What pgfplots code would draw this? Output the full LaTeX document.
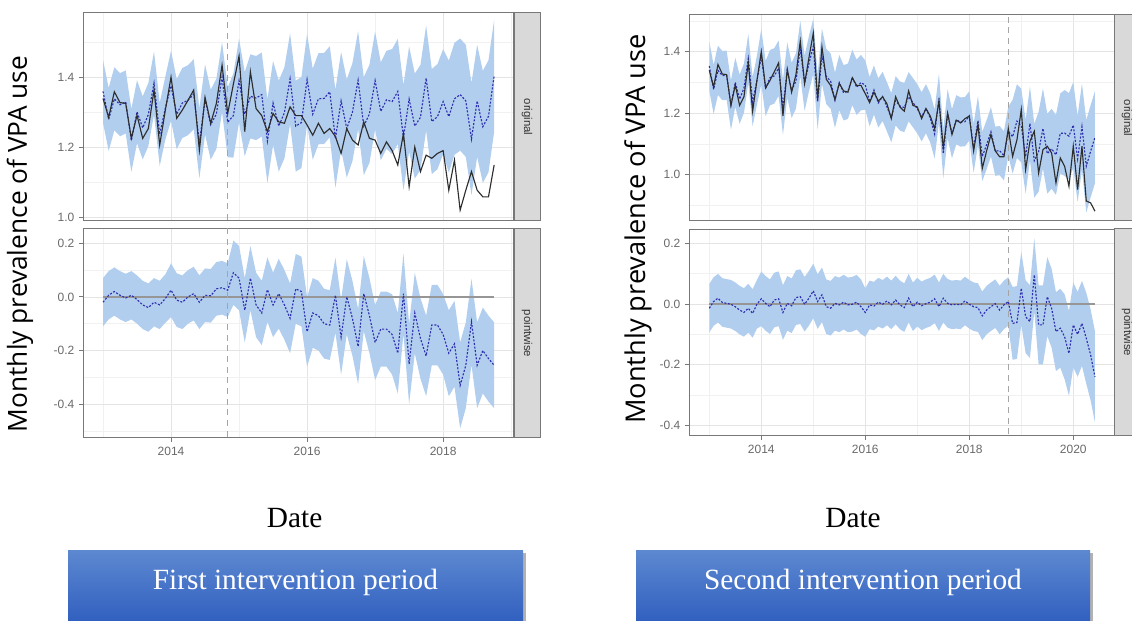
\documentclass[border=0pt]{standalone}
\usepackage{fontspec}
\setmainfont{Liberation Serif}
\newfontfamily\opensans{Open Sans}
\newfontfamily\arialf{Liberation Sans}
\usepackage{pgfplots}
\pgfplotsset{compat=1.18}
\usepackage{pgfplotstable}
\usepgfplotslibrary{fillbetween}

\definecolor{band}{RGB}{177,206,238}
\definecolor{predblue}{RGB}{45,45,175}
\definecolor{obsline}{RGB}{45,45,45}
\definecolor{framec}{RGB}{120,120,120}
\definecolor{gridmaj}{RGB}{228,228,228}
\definecolor{gridmin}{RGB}{241,241,241}
\definecolor{ticklab}{RGB}{105,105,105}
\definecolor{stripfill}{RGB}{217,217,217}
\definecolor{vlinec}{RGB}{165,165,165}
\definecolor{zeroc}{RGB}{150,150,150}
\definecolor{boxtop}{RGB}{92,136,208}
\definecolor{boxbot}{RGB}{45,92,190}

\pgfplotstableread{
i obs pred lo hi pw plo phi
0 1.339 1.359 1.269 1.449 -0.020 -0.110 0.070
1 1.285 1.279 1.189 1.369 0.006 -0.084 0.096
2 1.358 1.338 1.248 1.428 0.020 -0.070 0.110
3 1.327 1.321 1.231 1.411 0.006 -0.084 0.096
4 1.325 1.329 1.239 1.419 -0.004 -0.094 0.086
5 1.225 1.219 1.129 1.309 0.006 -0.084 0.096
6 1.291 1.301 1.211 1.391 -0.010 -0.100 0.080
7 1.225 1.255 1.165 1.345 -0.030 -0.120 0.060
8 1.253 1.293 1.203 1.383 -0.040 -0.130 0.050
9 1.363 1.383 1.293 1.473 -0.020 -0.110 0.070
10 1.206 1.236 1.146 1.326 -0.030 -0.120 0.060
11 1.306 1.312 1.222 1.402 -0.006 -0.096 0.084
12 1.400 1.375 1.275 1.475 0.025 -0.075 0.125
13 1.282 1.294 1.194 1.394 -0.012 -0.112 0.088
14 1.306 1.326 1.226 1.426 -0.020 -0.120 0.080
15 1.334 1.334 1.234 1.434 0.000 -0.100 0.100
16 1.363 1.351 1.251 1.451 0.012 -0.088 0.112
17 1.191 1.211 1.111 1.311 -0.020 -0.120 0.080
18 1.342 1.336 1.236 1.436 0.006 -0.094 0.106
19 1.268 1.264 1.164 1.364 0.004 -0.096 0.104
20 1.325 1.295 1.195 1.395 0.030 -0.070 0.130
21 1.434 1.400 1.300 1.500 0.034 -0.066 0.134
22 1.296 1.271 1.171 1.371 0.025 -0.075 0.125
23 1.380 1.290 1.170 1.410 0.090 -0.030 0.210
24 1.460 1.390 1.270 1.510 0.070 -0.050 0.190
25 1.244 1.294 1.174 1.414 -0.050 -0.170 0.070
26 1.415 1.345 1.225 1.465 0.070 -0.050 0.190
27 1.310 1.340 1.220 1.460 -0.030 -0.150 0.090
28 1.290 1.350 1.230 1.470 -0.060 -0.180 0.060
29 1.244 1.217 1.097 1.337 0.027 -0.093 0.147
30 1.296 1.326 1.206 1.446 -0.030 -0.150 0.090
31 1.272 1.260 1.130 1.390 0.012 -0.118 0.142
32 1.268 1.298 1.168 1.428 -0.030 -0.160 0.100
33 1.315 1.395 1.265 1.525 -0.080 -0.210 0.050
34 1.290 1.260 1.130 1.390 0.030 -0.100 0.160
35 1.290 1.270 1.140 1.400 0.020 -0.110 0.150
36 1.263 1.393 1.263 1.523 -0.130 -0.260 0.000
37 1.234 1.294 1.164 1.424 -0.060 -0.190 0.070
38 1.268 1.338 1.208 1.468 -0.070 -0.200 0.060
39 1.239 1.339 1.209 1.469 -0.100 -0.230 0.030
40 1.253 1.358 1.228 1.488 -0.105 -0.235 0.025
41 1.230 1.224 1.084 1.364 0.006 -0.134 0.146
42 1.182 1.332 1.192 1.472 -0.150 -0.290 -0.010
43 1.253 1.253 1.113 1.393 0.000 -0.140 0.140
44 1.220 1.300 1.160 1.440 -0.080 -0.220 0.060
45 1.206 1.391 1.251 1.531 -0.185 -0.325 -0.045
46 1.272 1.260 1.120 1.400 0.012 -0.128 0.152
47 1.225 1.295 1.155 1.435 -0.070 -0.210 0.070
48 1.220 1.390 1.250 1.530 -0.170 -0.310 -0.030
49 1.182 1.302 1.162 1.442 -0.120 -0.260 0.020
50 1.215 1.335 1.195 1.475 -0.120 -0.260 0.020
51 1.190 1.330 1.180 1.480 -0.140 -0.290 0.010
52 1.149 1.359 1.209 1.509 -0.210 -0.360 -0.060
53 1.239 1.227 1.077 1.377 0.012 -0.138 0.162
54 1.087 1.337 1.187 1.487 -0.250 -0.400 -0.100
55 1.200 1.260 1.110 1.410 -0.060 -0.210 0.090
56 1.130 1.285 1.135 1.435 -0.155 -0.305 -0.005
57 1.177 1.397 1.247 1.547 -0.220 -0.370 -0.070
58 1.168 1.273 1.123 1.423 -0.105 -0.255 0.045
59 1.182 1.287 1.137 1.437 -0.105 -0.255 0.045
60 1.190 1.330 1.180 1.480 -0.140 -0.290 0.010
61 1.077 1.287 1.127 1.447 -0.210 -0.370 -0.050
62 1.163 1.338 1.178 1.498 -0.175 -0.335 -0.015
63 1.020 1.350 1.190 1.510 -0.330 -0.490 -0.170
64 1.077 1.332 1.172 1.492 -0.255 -0.415 -0.095
65 1.130 1.223 1.063 1.383 -0.093 -0.253 0.067
66 1.077 1.332 1.172 1.492 -0.255 -0.415 -0.095
67 1.058 1.258 1.098 1.418 -0.200 -0.360 -0.040
68 1.058 1.288 1.128 1.448 -0.230 -0.390 -0.070
69 1.149 1.404 1.244 1.564 -0.255 -0.415 -0.095
}\tabL

\pgfplotstableread{
i obs pred lo hi pw plo phi
0 1.339 1.353 1.273 1.433 -0.014 -0.094 0.066
1 1.285 1.277 1.197 1.357 0.008 -0.072 0.088
2 1.358 1.339 1.259 1.419 0.019 -0.061 0.099
3 1.327 1.322 1.242 1.402 0.005 -0.075 0.085
4 1.325 1.323 1.243 1.403 0.002 -0.078 0.082
5 1.225 1.226 1.146 1.306 -0.001 -0.081 0.079
6 1.291 1.300 1.220 1.380 -0.009 -0.089 0.071
7 1.225 1.245 1.165 1.325 -0.020 -0.100 0.060
8 1.253 1.281 1.201 1.361 -0.028 -0.108 0.052
9 1.363 1.377 1.297 1.457 -0.014 -0.094 0.066
10 1.206 1.237 1.157 1.317 -0.031 -0.111 0.049
11 1.306 1.307 1.227 1.387 -0.001 -0.081 0.079
12 1.400 1.383 1.293 1.473 0.017 -0.073 0.107
13 1.282 1.280 1.190 1.370 0.002 -0.088 0.092
14 1.306 1.315 1.225 1.405 -0.009 -0.099 0.081
15 1.334 1.321 1.231 1.411 0.013 -0.077 0.103
16 1.363 1.346 1.256 1.436 0.017 -0.073 0.107
17 1.191 1.219 1.129 1.309 -0.028 -0.118 0.062
18 1.342 1.340 1.250 1.430 0.002 -0.088 0.092
19 1.268 1.274 1.184 1.364 -0.006 -0.096 0.084
20 1.325 1.304 1.214 1.394 0.021 -0.069 0.111
21 1.434 1.410 1.320 1.500 0.024 -0.066 0.114
22 1.296 1.297 1.207 1.387 -0.001 -0.091 0.089
23 1.380 1.361 1.271 1.451 0.019 -0.071 0.109
24 1.460 1.417 1.327 1.507 0.043 -0.047 0.133
25 1.244 1.236 1.146 1.326 0.008 -0.082 0.098
26 1.415 1.385 1.295 1.475 0.030 -0.060 0.120
27 1.310 1.319 1.229 1.409 -0.009 -0.099 0.081
28 1.290 1.304 1.214 1.394 -0.014 -0.104 0.076
29 1.244 1.242 1.152 1.332 0.002 -0.088 0.092
30 1.296 1.299 1.209 1.389 -0.003 -0.093 0.087
31 1.272 1.266 1.176 1.356 0.006 -0.084 0.096
32 1.268 1.271 1.181 1.361 -0.003 -0.093 0.087
33 1.315 1.316 1.226 1.406 -0.001 -0.091 0.089
34 1.290 1.284 1.194 1.374 0.006 -0.084 0.096
35 1.290 1.299 1.209 1.389 -0.009 -0.099 0.081
36 1.263 1.291 1.211 1.371 -0.028 -0.108 0.052
37 1.234 1.237 1.157 1.317 -0.003 -0.083 0.077
38 1.268 1.275 1.195 1.355 -0.007 -0.087 0.073
39 1.239 1.233 1.153 1.313 0.006 -0.074 0.086
40 1.253 1.254 1.174 1.334 -0.001 -0.081 0.079
41 1.230 1.220 1.140 1.300 0.010 -0.070 0.090
42 1.182 1.185 1.105 1.265 -0.003 -0.083 0.077
43 1.253 1.240 1.160 1.320 0.013 -0.067 0.093
44 1.220 1.223 1.143 1.303 -0.003 -0.083 0.077
45 1.206 1.218 1.138 1.298 -0.012 -0.092 0.068
46 1.272 1.253 1.173 1.333 0.019 -0.061 0.099
47 1.225 1.234 1.154 1.314 -0.009 -0.089 0.071
48 1.220 1.214 1.134 1.294 0.006 -0.074 0.086
49 1.182 1.188 1.108 1.268 -0.006 -0.086 0.074
50 1.215 1.214 1.134 1.294 0.001 -0.079 0.081
51 1.190 1.184 1.104 1.264 0.006 -0.074 0.086
52 1.149 1.132 1.052 1.212 0.017 -0.063 0.097
53 1.239 1.248 1.168 1.328 -0.009 -0.089 0.071
54 1.087 1.068 0.988 1.148 0.019 -0.061 0.099
55 1.200 1.198 1.118 1.278 0.002 -0.078 0.082
56 1.130 1.133 1.053 1.213 -0.003 -0.083 0.077
57 1.177 1.178 1.098 1.258 -0.001 -0.081 0.079
58 1.168 1.171 1.091 1.251 -0.003 -0.083 0.077
59 1.182 1.172 1.092 1.252 0.010 -0.070 0.090
60 1.190 1.191 1.111 1.271 -0.001 -0.081 0.079
61 1.077 1.086 1.006 1.166 -0.009 -0.089 0.071
62 1.163 1.175 1.095 1.255 -0.012 -0.092 0.068
63 1.020 1.059 0.979 1.139 -0.039 -0.119 0.041
64 1.077 1.097 1.017 1.177 -0.020 -0.100 0.060
65 1.130 1.139 1.059 1.219 -0.009 -0.089 0.071
66 1.077 1.076 0.996 1.156 0.001 -0.079 0.081
67 1.058 1.078 0.998 1.158 -0.020 -0.100 0.060
68 1.058 1.061 0.981 1.141 -0.003 -0.083 0.077
69 1.149 1.141 1.061 1.221 0.008 -0.072 0.088
70 1.059 1.123 1.003 1.243 -0.064 -0.184 0.056
71 1.113 1.174 1.054 1.294 -0.061 -0.181 0.059
72 1.211 1.159 1.039 1.279 0.052 -0.068 0.172
73 1.016 1.058 0.938 1.178 -0.042 -0.162 0.078
74 1.108 1.166 1.046 1.286 -0.058 -0.178 0.062
75 1.141 1.045 0.925 1.165 0.096 -0.024 0.216
76 1.005 1.074 0.944 1.204 -0.069 -0.199 0.061
77 1.081 1.150 1.020 1.280 -0.069 -0.199 0.061
78 1.092 1.068 0.938 1.198 0.024 -0.106 0.154
79 1.070 1.084 0.954 1.214 -0.014 -0.144 0.116
80 0.973 1.064 0.934 1.194 -0.091 -0.221 0.039
81 1.054 1.134 1.004 1.264 -0.080 -0.210 0.050
82 1.027 1.135 0.995 1.275 -0.108 -0.248 0.032
83 0.962 1.125 0.985 1.265 -0.163 -0.303 -0.023
84 1.092 1.161 1.021 1.301 -0.069 -0.209 0.071
85 0.951 1.051 0.911 1.191 -0.100 -0.240 0.040
86 1.092 1.156 1.016 1.296 -0.064 -0.204 0.076
87 0.914 1.027 0.877 1.177 -0.113 -0.263 0.037
88 0.908 1.076 0.926 1.226 -0.168 -0.318 -0.018
89 0.881 1.121 0.971 1.271 -0.240 -0.390 -0.090
}\tabR

\pgfplotsset{
  panel/.style={
    scale only axis,
    anchor=south west,
    axis line style={draw=framec, line width=0.75pt},
    tick align=outside,
    major tick length=3pt,
    minor tick length=0pt,
    every tick/.style={draw=framec, line width=0.7pt},
    xtick pos=bottom, ytick pos=left,
    grid=both,
    major grid style={draw=gridmaj, line width=0.55pt},
    minor grid style={draw=gridmin, line width=0.35pt},
    tick label style={font=\arialf\fontsize{9}{10}\selectfont, text=ticklab},
    xtick={12,36,60,84}, minor xtick={0,24,48,72},
    xticklabels={2014,2016,2018,2020},
  },
  toppanel/.style={panel, xmajorticks=false},
  bandfill/.style={fill=band, draw=none},
  predline/.style={predblue, line width=0.85pt, dash pattern=on 1.5pt off 1.2pt},
  obsl/.style={obsline, line width=0.85pt},
  interv/.style={vlinec, line width=1.1pt, dash pattern=on 4.5pt off 3.5pt},
}

\begin{document}
\begin{tikzpicture}

% ---------------- LEFT: original ----------------
\begin{axis}[toppanel, at={(62.25pt,300pt)}, width=323.25pt, height=156pt,
  xmin=-3.53, xmax=72.5, ymin=0.989, ymax=1.583,
  ytick={1.0,1.2,1.4}, yticklabels={1.0,1.2,1.4}, minor ytick={1.1,1.3,1.5}]
\addplot[name path=LThi, draw=none] table[x=i,y=hi]{\tabL};
\addplot[name path=LTlo, draw=none] table[x=i,y=lo]{\tabL};
\addplot[bandfill] fill between[of=LThi and LTlo];
\addplot[interv] coordinates {(22,0.9) (22,1.7)};
\addplot[predline] table[x=i,y=pred]{\tabL};
\addplot[obsl] table[x=i,y=obs]{\tabL};
\end{axis}

% ---------------- LEFT: pointwise ----------------
\begin{axis}[panel, at={(62.25pt,137.25pt)}, width=323.25pt, height=156.75pt,
  xmin=-3.53, xmax=72.5, ymin=-0.526, ymax=0.253,
  ytick={-0.4,-0.2,0,0.2}, yticklabels={-0.4,-0.2,0.0,0.2}, minor ytick={-0.5,-0.3,-0.1,0.1}]
\addplot[name path=LBhi, draw=none] table[x=i,y=phi]{\tabL};
\addplot[name path=LBlo, draw=none] table[x=i,y=plo]{\tabL};
\addplot[bandfill] fill between[of=LBhi and LBlo];
\addplot[zeroc, line width=1pt] coordinates {(0,0) (69,0)};
\addplot[interv] coordinates {(22,-0.6) (22,0.3)};
\addplot[predline] table[x=i,y=pw]{\tabL};
\end{axis}

% ---------------- RIGHT: original ----------------
\begin{axis}[toppanel, at={(516.75pt,300pt)}, width=318.75pt, height=154.5pt,
  xmin=-4.68, xmax=93.4, ymin=0.849, ymax=1.519,
  ytick={1.0,1.2,1.4}, yticklabels={1.0,1.2,1.4}, minor ytick={0.9,1.1,1.3,1.5}]
\addplot[name path=RThi, draw=none] table[x=i,y=hi]{\tabR};
\addplot[name path=RTlo, draw=none] table[x=i,y=lo]{\tabR};
\addplot[bandfill] fill between[of=RThi and RTlo];
\addplot[interv] coordinates {(69,0.8) (69,1.6)};
\addplot[predline] table[x=i,y=pred]{\tabR};
\addplot[obsl] table[x=i,y=obs]{\tabR};
\end{axis}

% ---------------- RIGHT: pointwise ----------------
\begin{axis}[panel, at={(516.75pt,138.75pt)}, width=318.75pt, height=155.25pt,
  xmin=-4.68, xmax=93.4, ymin=-0.435, ymax=0.247,
  ytick={-0.4,-0.2,0,0.2}, yticklabels={-0.4,-0.2,0.0,0.2}, minor ytick={-0.3,-0.1,0.1}]
\addplot[name path=RBhi, draw=none] table[x=i,y=phi]{\tabR};
\addplot[name path=RBlo, draw=none] table[x=i,y=plo]{\tabR};
\addplot[bandfill] fill between[of=RBhi and RBlo];
\addplot[zeroc, line width=1pt] coordinates {(0,0) (89,0)};
\addplot[interv] coordinates {(69,-0.5) (69,0.3)};
\addplot[predline] table[x=i,y=pw]{\tabR};
\end{axis}

% ---------------- strips ----------------
\begin{scope}[every node/.style={font=\arialf\fontsize{8.5}{9}\selectfont, text=black!80}]
\draw[fill=stripfill, draw=framec, line width=0.75pt] (385.5pt,300pt) rectangle (405pt,456pt);
\node[rotate=-90] at (395.25pt,378pt) {original};
\draw[fill=stripfill, draw=framec, line width=0.75pt] (385.5pt,137.25pt) rectangle (405pt,294pt);
\node[rotate=-90] at (395.25pt,215.6pt) {pointwise};
\draw[fill=stripfill, draw=framec, line width=0.75pt] (835.5pt,300pt) rectangle (855pt,454.5pt);
\node[rotate=-90] at (845.25pt,377.25pt) {original};
\draw[fill=stripfill, draw=framec, line width=0.75pt] (835.5pt,138.75pt) rectangle (855pt,294pt);
\node[rotate=-90] at (845.25pt,216.4pt) {pointwise};
\end{scope}

% ---------------- axis titles ----------------
\node[rotate=90, font=\opensans\fontsize{19.7}{22}\selectfont] at (15pt,282.75pt) {Monthly prevalence of VPA use};
\node[rotate=90, font=\opensans\fontsize{20.4}{22}\selectfont] at (478.5pt,294pt) {Monthly prevalence of VPA use};
\node[font=\fontsize{22}{24}\selectfont] at (221pt,77.25pt) {Date};
\node[font=\fontsize{22}{24}\selectfont] at (639.75pt,77.25pt) {Date};

% ---------------- blue boxes ----------------
\fill[black!30] (53pt,-5pt) rectangle (394.5pt,51pt);
\shade[top color=boxtop, bottom color=boxbot] (51pt,-5pt) rectangle (392.25pt,52.5pt);
\node[text=white, font=\fontsize{22}{24}\selectfont] at (221.6pt,29.25pt) {First intervention period};
\fill[black!30] (479pt,-5pt) rectangle (819.75pt,51pt);
\shade[top color=boxtop, bottom color=boxbot] (477pt,-5pt) rectangle (817.5pt,52.5pt);
\node[text=white, font=\fontsize{22}{24}\selectfont] at (647.25pt,29.25pt) {Second intervention period};

\pgfresetboundingbox
\path[use as bounding box] (0,0) rectangle (849pt,465.75pt);
\end{tikzpicture}
\end{document}
